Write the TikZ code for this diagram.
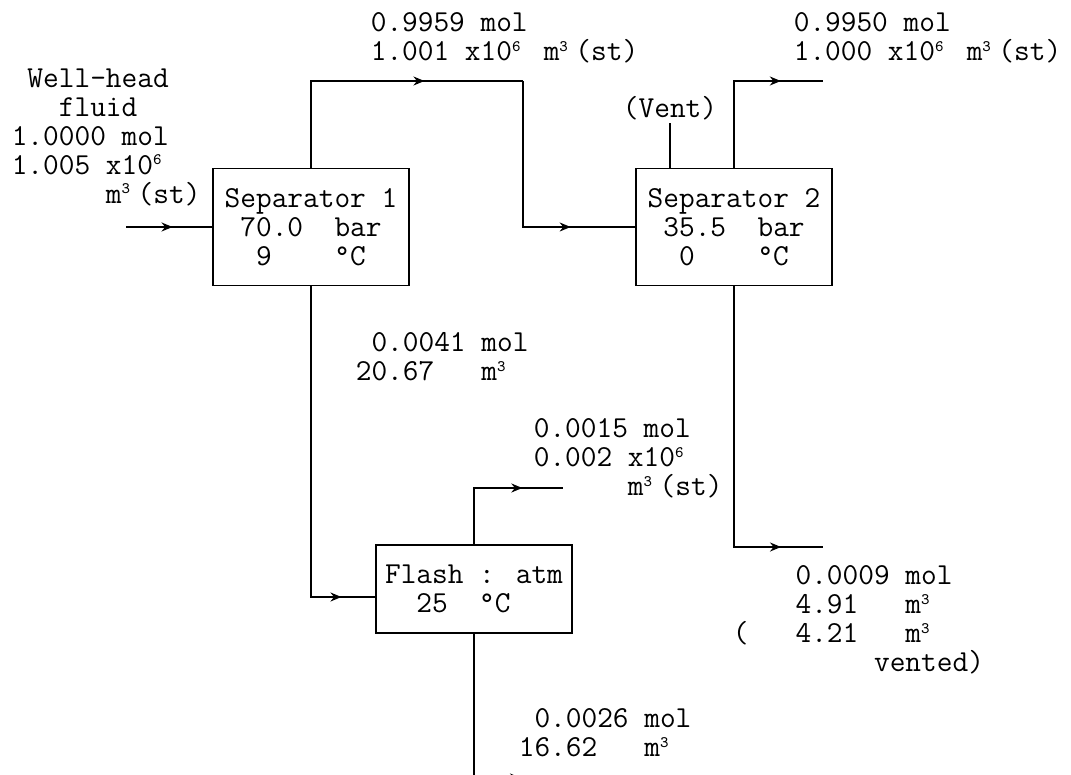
\documentclass[tikz,border=0pt]{standalone}
\usepackage{fontspec}
\usetikzlibrary{arrows.meta,decorations.markings}

% small raised figure that keeps one typewriter cell
\newcommand\supc[1]{\makebox[0.525em][l]{\raisebox{0.3em}{\fontsize{8}{8}\selectfont #1}}}

\tikzset{
  unit/.style={draw, line width=0.8pt, minimum width=98pt, inner sep=0pt, align=left},
  stream/.style={anchor=north west, inner sep=0pt, align=left, yshift=10.15pt,
    execute at begin node=\strut},
  flow/.style={postaction={decorate}, decoration={markings,
    mark=at position #1 with {\arrow{Stealth[length=5.5pt,width=4.5pt]}}}}
}

\begin{document}
\begin{tikzpicture}[x=0.5pt, y=-0.5pt, line width=0.8pt,
    font=\fontsize{15.24}{14.5}\ttfamily]
    \useasboundingbox (0,0) rectangle (1071,775);

    % Units
    \node[unit, minimum height=58.5pt] (s1) at (311,227)
        {Separator 1\\\hphantom{0}70.0~~bar\\\hphantom{00}9~~~~°C};
    \node[unit, minimum height=58.5pt] (s2) at (734,227)
        {Separator 2\\\hphantom{0}35.5~~bar\\\hphantom{00}0~~~~°C};
    \node[unit, minimum height=44pt] (fl) at (474,589)
        {Flash : atm\\\hphantom{00}25~~°C};

    % Stream ends
    \coordinate (inlet) at (126,227);
    \coordinate (j1) at (523,81);
    \coordinate (gas2) at (823,81);
    \coordinate (liq2) at (823,547);
    \coordinate (gas3) at (563,488);
    \coordinate (liq3) at (563,778);

    % Streams
    \draw[flow=0.54] (inlet) -- (s1.west);
    \draw[flow=0.67] (s1.north) |- (j1);
    \draw[flow=0.75] (j1) |- (s2.west);
    \draw[flow=0.76] (s2.north) |- (gas2);
    \draw[flow=0.88] (s2.south) |- (liq2);
    \draw[flow=0.91] (s1.south) |- ([yshift=-4pt]fl.west);
    \draw[flow=0.72] (fl.north) |- (gas3);
    \draw[flow=0.82] (fl.south) |- (liq3);

    % Vent
    \node[anchor=base, inner sep=1pt] (vent) at (670,118) {(Vent)};
    \draw (s2.north -| vent) -- (vent.south);

    % Stream labels
    \node[stream] (feed) at (11,88)
        {\hphantom{0}Well-head\\\hphantom{000}fluid\\1.0000 mol\\1.005 x10\supc{6}\\\hphantom{000000}m\supc{3}(st)};
    \node[stream] (g1) at (370,32) {0.9959 mol\\1.001 x10\supc{6} m\supc{3}(st)};
    \node[stream] (g2) at (793,32) {0.9950 mol\\1.000 x10\supc{6} m\supc{3}(st)};
    \node[stream] (l1) at (355,352) {\hphantom{0}0.0041 mol\\20.67~~~m\supc{3}};
    \node[stream] (g3) at (533,438)
        {0.0015 mol\\0.002 x10\supc{6}\\\hphantom{000000}m\supc{3}(st)};
    \node[stream] (l2) at (732,585)
        {\hphantom{0000}0.0009 mol\\\hphantom{0000}4.91~~~m\supc{3}\\(~~~4.21~~~m\supc{3}\\\hphantom{000000000}vented)};
    \node[stream] (l3) at (518,728) {\hphantom{0}0.0026 mol\\16.62~~~m\supc{3}};
\end{tikzpicture}
\end{document}
